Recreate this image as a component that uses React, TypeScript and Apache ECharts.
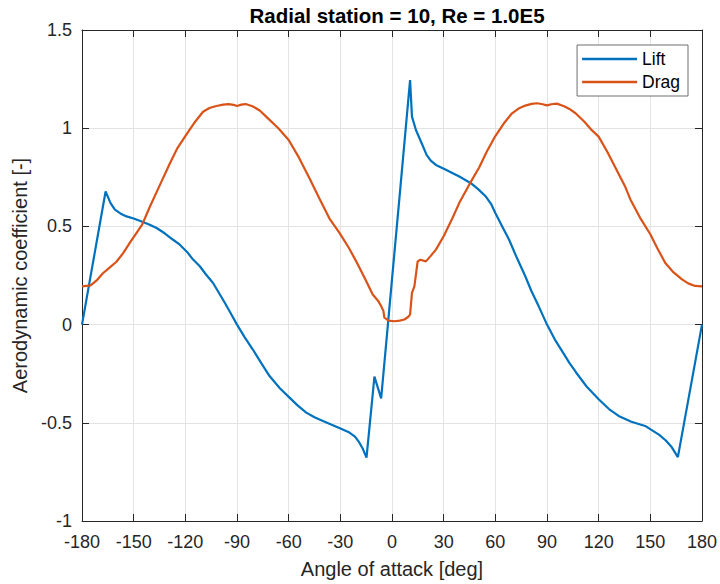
import React, { useEffect, useRef } from "react";
import * as echarts from "echarts";

const xTicks = [-180, -150, -120, -90, -60, -30, 0, 30, 60, 90, 120, 150, 180];

const liftAngles = [
  -180, -166.3, -163.5, -160.9, -157.5, -154.1, -150, -145.4, -141, -136.7, -132, -127.1, -123.2, -119,
  -115.5, -111.6, -108, -103.9, -97, -93.5, -90, -85.5, -80.8, -76, -71.1, -65, -59.5, -55, -49.8, -45,
  -40.1, -35, -29.6, -24.7, -21.5, -19, -16.8, -14.8, -10.2, -6.3, -3, 0, 5, 10.5, 11.6, 13.9, 16.8,
  20.1, 22.5, 25.5, 31.3, 35, 39.1, 45.8, 50, 54.5, 57.5, 60, 64, 68, 72.5, 77.4, 81, 85.2, 90, 94.5,
  99.4, 103, 107, 113, 120, 126, 131.6, 139, 147, 150.4, 155, 159, 162.5, 166, 180,
];
const liftValues = [
  0, 0.678, 0.62, 0.585, 0.565, 0.551, 0.54, 0.525, 0.51, 0.492, 0.465, 0.432, 0.407, 0.37,
  0.331, 0.297, 0.255, 0.212, 0.11, 0.055, 0, -0.065, -0.127, -0.195, -0.262, -0.325, -0.372, -0.41, -0.448, -0.472,
  -0.491, -0.51, -0.53, -0.55, -0.57, -0.6, -0.635, -0.677, -0.265, -0.376, -0.06, 0.23, 0.71, 1.245, 1.059, 0.991, 0.932,
  0.864, 0.835, 0.813, 0.788, 0.772, 0.754, 0.72, 0.69, 0.652, 0.615, 0.568, 0.5, 0.432, 0.34, 0.246, 0.17, 0.093, 0, -0.075,
  -0.144, -0.195, -0.245, -0.315, -0.38, -0.43, -0.465, -0.495, -0.516, -0.535, -0.56, -0.59, -0.625, -0.675, 0,
];

const dragAngles = [
  -180, -175, -171.5, -168, -164, -160, -156, -152, -148.5, -145, -140.6, -134.8, -129, -124.5, -120, -115,
  -109.7, -106, -102, -98, -95, -92, -90, -87.5, -85, -81, -76.8, -72, -66, -60, -54, -48, -42, -36.3,
  -30.4, -25, -20.8, -16, -11.2, -8, -6.3, -5, -4.4, -2, 1.4, 4.5, 7.2, 9.5, 10.5, 11.6, 13, 14.9, 16.5,
  19.7, 22.5, 25.5, 30, 35, 39.1, 45, 50.6, 55, 60, 65, 69.7, 73.5, 77.4, 81, 84.3, 87.5, 90, 92.5, 95.7,
  100, 103, 106.6, 112, 116, 120, 125, 130, 135.5, 138.5, 144, 150, 154, 158.7, 163, 168.4, 172, 176, 180,
];
const dragValues = [
  0.195, 0.2, 0.225, 0.26, 0.29, 0.32, 0.365, 0.42, 0.465, 0.51, 0.6, 0.71, 0.82, 0.9, 0.96, 1.025,
  1.084, 1.103, 1.113, 1.12, 1.123, 1.119, 1.113, 1.12, 1.123, 1.112, 1.09, 1.05, 1.0, 0.94, 0.85, 0.746, 0.64, 0.54,
  0.466, 0.39, 0.322, 0.24, 0.153, 0.12, 0.094, 0.07, 0.035, 0.02, 0.017, 0.02, 0.026, 0.04, 0.051, 0.162, 0.195, 0.322, 0.33,
  0.322, 0.35, 0.382, 0.45, 0.54, 0.62, 0.715, 0.8, 0.88, 0.96, 1.025, 1.076, 1.1, 1.115, 1.124, 1.127, 1.122, 1.116, 1.122, 1.125,
  1.112, 1.098, 1.076, 1.03, 0.99, 0.957, 0.88, 0.795, 0.7, 0.636, 0.545, 0.46, 0.39, 0.314, 0.27, 0.23, 0.21, 0.197, 0.195,
];

const FONT = "'Liberation Sans', Arial, Helvetica, sans-serif";
const INK = "#262626";

export default function App() {
  const ref = useRef<HTMLDivElement>(null);
  useEffect(() => {
    document.body.style.margin = "0";
    const chart = echarts.init(ref.current!, undefined, { renderer: "svg" });
    const xCommon = {
      type: "value" as const,
      min: xTicks[0],
      max: xTicks[xTicks.length - 1],
      interval: 30,
    };
    const yCommon = { type: "value" as const, min: -1, max: 1.5, interval: 0.5 };
    const tick = { show: true, inside: true, length: 7, lineStyle: { color: INK, width: 1 } };
    const line = { show: true, onZero: false, lineStyle: { color: INK, width: 1 } };
    chart.setOption({
      animation: false,
      backgroundColor: "#ffffff",
      title: {
        text: "Radial station = 10, Re = 1.0E5",
        left: 392,
        textAlign: "center",
        top: 0,
        textStyle: { fontFamily: FONT, fontWeight: "bold", fontSize: 20.5, color: "#000" },
      },
      grid: { left: 82, right: 17, top: 30, bottom: 63, containLabel: false },
      legend: {
        right: 32,
        top: 45,
        orient: "vertical",
        backgroundColor: "#fff",
        borderColor: "#6e6e6e",
        borderWidth: 1,
        borderRadius: 0,
        padding: [5, 8, 5, 5],
        itemGap: 5,
        itemWidth: 55,
        itemHeight: 2.5,
        icon: "rect",
        textStyle: { fontFamily: FONT, fontSize: 17.5, color: "#000" },
        data: ["Lift", "Drag"],
      },
      xAxis: [
        {
          ...xCommon,
          position: "bottom",
          axisLine: line,
          axisTick: tick,
          axisLabel: { color: INK, fontFamily: FONT, fontSize: 18, margin: 12 },
          splitLine: { show: true, lineStyle: { color: "#e3e3e3", width: 1 } },
          name: "Angle of attack [deg]",
          nameLocation: "middle",
          nameGap: 38,
          nameTextStyle: { color: INK, fontFamily: FONT, fontSize: 20 },
        },
        {
          ...xCommon,
          position: "top",
          axisLine: line,
          axisTick: tick,
          axisLabel: { show: false },
          splitLine: { show: false },
        },
      ],
      yAxis: [
        {
          ...yCommon,
          position: "left",
          axisLine: line,
          axisTick: tick,
          axisLabel: { color: INK, fontFamily: FONT, fontSize: 18, margin: 10 },
          splitLine: { show: true, lineStyle: { color: "#e3e3e3", width: 1 } },
          name: "Aerodynamic coefficient [-]",
          nameLocation: "middle",
          nameGap: 48,
          nameTextStyle: { color: INK, fontFamily: FONT, fontSize: 20 },
        },
        {
          ...yCommon,
          position: "right",
          axisLine: line,
          axisTick: tick,
          axisLabel: { show: false },
          splitLine: { show: false },
        },
      ],
      series: [
        {
          name: "Lift",
          type: "line",
          xAxisIndex: 0,
          yAxisIndex: 0,
          data: liftAngles.map((a, i) => [a, liftValues[i]]),
          showSymbol: false,
          symbol: "none",
          clip: true,
          color: "#0072BD",
          lineStyle: { color: "#0072BD", width: 2.2 },
        },
        {
          name: "Drag",
          type: "line",
          xAxisIndex: 0,
          yAxisIndex: 0,
          data: dragAngles.map((a, i) => [a, dragValues[i]]),
          showSymbol: false,
          symbol: "none",
          clip: true,
          color: "#D95319",
          lineStyle: { color: "#D95319", width: 2.2 },
        },
      ],
    });
    return () => chart.dispose();
  }, []);
  return <div ref={ref} style={{ position: "fixed", left: 0, top: 0, width: 720, height: 584 }} />;
}
